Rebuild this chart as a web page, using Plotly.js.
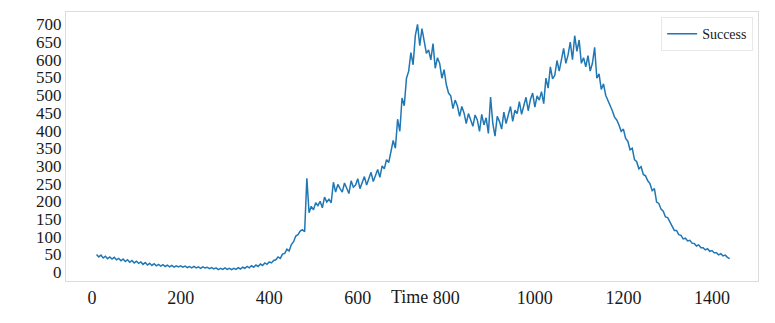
<!DOCTYPE html>
<html>
<head>
<meta charset="utf-8">
<script src="https://cdn.plot.ly/plotly-3.0.1.min.js"></script>
<style>html,body{margin:0;padding:0;background:#fff;}#chart{width:775px;height:323px;}</style>
</head>
<body>
<div id="chart"></div>
<script>
// Time axis: first sample minute and sampling step (minutes)
const timeStart = 10;
const timeStep = 5;
// "Success" counts, one value every 5 minutes (t = 10 ... 1440)
const success = [
  50, 43, 48, 40, 45, 38, 43, 37, 42, 35,
  39, 32, 37, 30, 35, 28, 33, 26, 31, 25,
  29, 22, 27, 20, 25, 19, 24, 18, 22, 17,
  21, 16, 20, 15, 19, 14, 18, 15, 18, 14,
  17, 13, 16, 12, 16, 12, 15, 11, 15, 12,
  14, 10, 13, 9, 12, 7, 11, 8, 12, 8,
  11, 7, 11, 8, 13, 9, 14, 11, 16, 12,
  18, 14, 20, 16, 23, 19, 26, 22, 29, 26,
  33, 35, 43, 39, 51, 53, 65, 60, 78, 86,
  102, 106, 116, 120, 114, 265, 168, 186, 176, 196,
  188, 200, 182, 212, 198, 206, 196, 254, 226, 248,
  236, 226, 252, 234, 222, 258, 240, 246, 264, 236,
  256, 270, 246, 262, 282, 256, 272, 290, 268, 300,
  292, 318, 310, 338, 372, 350, 432, 398, 492, 470,
  548, 568, 620, 586, 668, 700, 640, 688, 650, 618,
  628, 600, 646, 576, 606, 590, 548, 572, 530, 506,
  498, 462, 486, 470, 440, 468, 450, 420, 448, 430,
  412, 444, 430, 398, 446, 416, 436, 392, 495, 420,
  384, 440, 426, 404, 452, 420, 444, 468, 426, 458,
  448, 482, 446, 470, 494, 456, 488, 506, 466, 498,
  486, 510, 476, 548, 520, 580, 546, 556, 598, 568,
  596, 632, 590, 614, 650, 600, 668, 624, 656, 590,
  606, 580, 612, 568, 590, 635, 548, 560, 516, 532,
  500, 486, 470, 456, 438, 430, 416, 398, 404, 378,
  370, 346, 350, 318, 312, 292, 298, 276, 272, 258,
  250, 230, 236, 198, 194, 178, 172, 156, 154, 140,
  130, 118, 118, 106, 104, 94, 96, 88, 90, 82,
  81, 74, 77, 69, 69, 63, 66, 59, 61, 55,
  55, 49, 52, 46, 48, 42, 38
];
const xTicks = [0, 200, 400, 600, 800, 1000, 1200, 1400];
const yTicks = [0, 50, 100, 150, 200, 250, 300, 350, 400, 450, 500, 550, 600, 650, 700];

const serif = "Liberation Serif";

const trace = {
  type: 'scatter',
  mode: 'lines',
  name: 'Success',
  x0: timeStart,
  dx: timeStep,
  y: success,
  line: {color: '#1f77b4', width: 1.5},
  showlegend: true
};

const layout = {
  width: 775,
  height: 323,
  margin: {l: 66, r: 17, t: 12, b: 42},
  paper_bgcolor: '#ffffff',
  plot_bgcolor: '#ffffff',
  font: {family: serif, size: 17, color: '#1a1a1a'},
  showlegend: true,
  legend: {
    x: 0.993, y: 0.981, xanchor: 'right', yanchor: 'top',
    bgcolor: '#ffffff', bordercolor: '#e8e8e8', borderwidth: 1,
    font: {family: serif, size: 14, color: '#1a1a1a'},
    itemwidth: 30
  },
  xaxis: {
    range: [-59, 1504],
    tickvals: xTicks,
    ticktext: xTicks.map(String),
    ticks: '',
    showgrid: false,
    zeroline: false,
    showline: true,
    mirror: true,
    linecolor: '#dcdcdc',
    linewidth: 1,
    tickfont: {family: serif, size: 18, color: '#1a1a1a'},
    automargin: false
  },
  yaxis: {
    range: [-25, 735],
    tickvals: yTicks,
    ticktext: yTicks.map(String),
    ticks: '',
    showgrid: false,
    zeroline: false,
    showline: true,
    mirror: true,
    linecolor: '#dcdcdc',
    linewidth: 1,
    tickfont: {family: serif, size: 17, color: '#1a1a1a'},
    automargin: false
  },
  annotations: [{
    text: 'Time',
    xref: 'paper', yref: 'paper',
    x: 0.497, y: -0.058,
    xanchor: 'center', yanchor: 'middle',
    showarrow: false,
    font: {family: serif, size: 18, color: '#1a1a1a'}
  }]
};

Plotly.newPlot('chart', [trace], layout, {displayModeBar: false, staticPlot: true});
</script>
</body>
</html>
